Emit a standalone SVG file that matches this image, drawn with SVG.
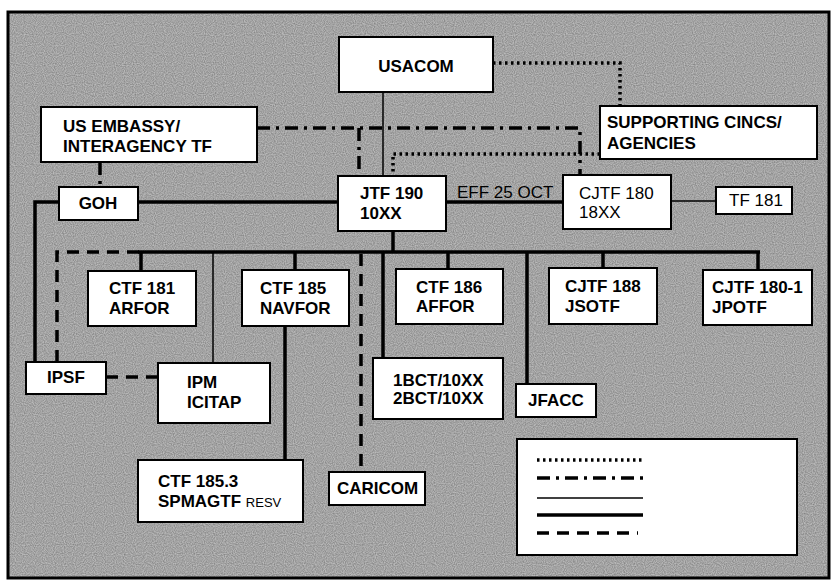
<svg xmlns="http://www.w3.org/2000/svg" width="831" height="580" viewBox="0 0 831 580">
<defs>
<filter id="grain" x="0" y="0" width="100%" height="100%">
<feTurbulence type="fractalNoise" baseFrequency="0.9" numOctaves="1" seed="3" result="n"/>
<feColorMatrix type="matrix" values="0 0 0 0 0  0 0 0 0 0  0 0 0 0 0  0 0 0 -1.4 1.05"/>
</filter>
</defs>
<style>
.box{fill:#fff;stroke:#000;stroke-width:2}
.t{font-family:"Liberation Sans",Arial,sans-serif;font-weight:bold;font-size:17px;fill:#000}
.n{font-weight:normal}
.thick{fill:none;stroke:#000;stroke-width:3.5}
.thin{fill:none;stroke:#000;stroke-width:1.5}
.dot{fill:none;stroke:#000;stroke-width:3.5;stroke-dasharray:2.5 3.5}
.dd{fill:none;stroke:#000;stroke-width:3.5;stroke-dasharray:13 6 3 6}
.dash{fill:none;stroke:#000;stroke-width:3.5;stroke-dasharray:12 8}
</style>
<rect x="0" y="0" width="831" height="580" fill="#fff"/>
<rect x="8" y="12" width="821" height="566" fill="#bababa"/>
<rect x="8" y="12" width="821" height="566" fill="#8a8a8a" filter="url(#grain)" opacity="0.35"/>
<rect x="8" y="12" width="821" height="566" fill="none" stroke="#000" stroke-width="3"/>

<g id="connectors">
<path class="thin" d="M383,92 V176"/>
<path class="dot" d="M493,63 H620 V106"/>
<path class="dd" d="M257,128 H580 V175"/>
<path class="dd" d="M359,128 V176"/>
<path class="dd" d="M100,162 V187"/>
<path class="dot" d="M600,154 H393 V176"/>
<path class="thick" d="M446,202 H563"/>
<path class="thin" d="M671,201 H716"/>
<path class="thick" d="M138,202 H338"/>
<path class="thick" d="M59,202 H35 V362"/>
<path class="dash" d="M106,377 H158"/>
<path class="dash" d="M57,362 V252 H140"/>
<path class="thick" d="M138,252 H760"/>
<path class="thick" d="M393,231 V252"/>
<path class="thick" d="M141,252 V271"/>
<path class="thick" d="M295,252 V270"/>
<path class="thick" d="M383,252 V358"/>
<path class="thick" d="M448,252 V269"/>
<path class="thick" d="M527,252 V384"/>
<path class="thick" d="M603,252 V268"/>
<path class="thick" d="M758,252 V270"/>
<path class="thin" d="M213,252 V363"/>
<path class="thick" d="M285,326 V460"/>
<path class="dash" d="M361,254 V472"/>
</g>

<g id="usacom"><rect class="box" x="339" y="37" width="154" height="55"/><text class="t" x="416" y="72" font-size="21" text-anchor="middle">USACOM</text></g>
<g id="embassy"><rect class="box" x="41" y="107" width="216" height="55"/><text class="t" x="63" y="132" font-size="19">US EMBASSY/</text><text class="t" x="63" y="152" font-size="19">INTERAGENCY TF</text></g>
<g id="supporting"><rect class="box" x="600" y="106" width="217" height="53"/><text class="t" x="607" y="128" font-size="19">SUPPORTING CINCS/</text><text class="t" x="607" y="149" font-size="19">AGENCIES</text></g>
<g id="jtf190"><rect class="box" x="338" y="176" width="108" height="55"/><text class="t" x="360" y="199">JTF 190</text><text class="t" x="360" y="219">10XX</text></g>
<g id="effLabel"><text class="t n" x="457" y="198">EFF 25 OCT</text></g>
<g id="cjtf180"><rect class="box" x="563" y="175" width="108" height="54"/><text class="t n" x="579" y="199">CJTF 180</text><text class="t n" x="579" y="218">18XX</text></g>
<g id="tf181"><rect class="box" x="716" y="187" width="76" height="27"/><text class="t n" x="729" y="206">TF 181</text></g>
<g id="goh"><rect class="box" x="59" y="187" width="79" height="33"/><text class="t" x="98" y="209" text-anchor="middle">GOH</text></g>
<g id="ctf181"><rect class="box" x="88" y="271" width="108" height="55"/><text class="t" x="109" y="294">CTF 181</text><text class="t" x="109" y="314">ARFOR</text></g>
<g id="ctf185"><rect class="box" x="242" y="270" width="107" height="56"/><text class="t" x="260" y="294">CTF 185</text><text class="t" x="260" y="314">NAVFOR</text></g>
<g id="ctf186"><rect class="box" x="396" y="269" width="107" height="55"/><text class="t" x="416" y="293">CTF 186</text><text class="t" x="416" y="312">AFFOR</text></g>
<g id="cjtf188"><rect class="box" x="549" y="268" width="108" height="56"/><text class="t" x="565" y="292">CJTF 188</text><text class="t" x="565" y="312">JSOTF</text></g>
<g id="cjtf1801"><rect class="box" x="703" y="270" width="109" height="55"/><text class="t" x="712" y="293">CJTF 180-1</text><text class="t" x="712" y="313">JPOTF</text></g>
<g id="ipsf"><rect class="box" x="26" y="362" width="80" height="32"/><text class="t" x="47" y="383">IPSF</text></g>
<g id="ipm"><rect class="box" x="158" y="363" width="112" height="60"/><text class="t" x="187" y="388">IPM</text><text class="t" x="187" y="408">ICITAP</text></g>
<g id="bct"><rect class="box" x="373" y="358" width="130" height="61"/><text class="t" x="393" y="386">1BCT/10XX</text><text class="t" x="393" y="404">2BCT/10XX</text></g>
<g id="jfacc"><rect class="box" x="516" y="384" width="80" height="33"/><text class="t" x="528" y="406">JFACC</text></g>
<g id="ctf1853"><rect class="box" x="138" y="460" width="165" height="62"/><text class="t" x="158" y="487">CTF 185.3</text><text class="t" x="158" y="507">SPMAGTF <tspan font-weight="normal" font-size="13">RESV</tspan></text></g>
<g id="caricom"><rect class="box" x="329" y="472" width="96" height="33"/><text class="t" x="337" y="494">CARICOM</text></g>
<g id="legend"><rect class="box" x="517" y="439" width="280" height="116"/>
<path class="dot" d="M537,460 H643"/>
<path class="dd" d="M537,478 H643"/>
<path class="thin" d="M537,498 H643"/>
<path class="thick" d="M537,515 H643"/>
<path class="dash" d="M537,533 H638"/>
</g>
</svg>
